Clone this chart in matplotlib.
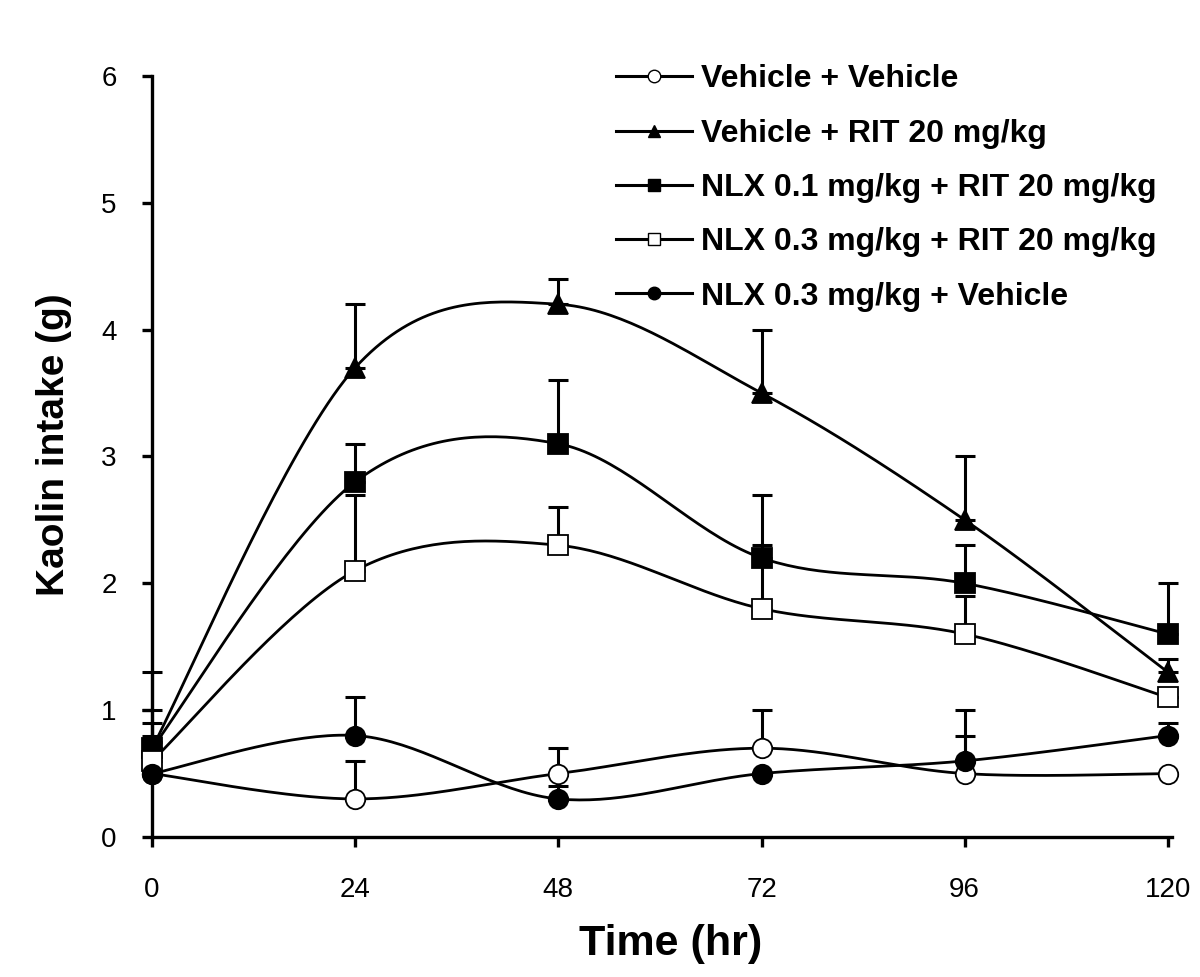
import numpy as np
import matplotlib
matplotlib.use('Agg')
import matplotlib.pyplot as plt
from matplotlib.lines import Line2D

plt.rcParams['font.family'] = ['Liberation Sans', 'DejaVu Sans']

TIME = [0, 24, 48, 72, 96, 120]
LABELS = ['Vehicle + Vehicle',
          'Vehicle + RIT 20 mg/kg',
          'NLX 0.1 mg/kg + RIT 20 mg/kg',
          'NLX 0.3 mg/kg + RIT 20 mg/kg',
          'NLX 0.3 mg/kg + Vehicle']

veh_veh = [0.5, 0.3, 0.5, 0.7, 0.5, 0.5]
veh_veh_err = [0.25, 0.3, 0.2, 0.3, 0.3, 0.0]
veh_rit = [0.7, 3.7, 4.2, 3.5, 2.5, 1.3]
veh_rit_err = [0.6, 0.5, 0.2, 0.5, 0.5, 0.1]
nlx01_rit = [0.7, 2.8, 3.1, 2.2, 2.0, 1.6]
nlx01_rit_err = [0.3, 0.3, 0.5, 0.5, 0.3, 0.4]
nlx03_rit = [0.6, 2.1, 2.3, 1.8, 1.6, 1.1]
nlx03_rit_err = [0.3, 0.6, 0.3, 0.5, 0.3, 0.0]
nlx03_veh = [0.5, 0.8, 0.3, 0.5, 0.6, 0.8]
nlx03_veh_err = [0.3, 0.3, 0.1, 0.0, 0.4, 0.1]

SERIES = [
    (veh_veh, veh_veh_err, 'o', 'white'),
    (veh_rit, veh_rit_err, '^', 'black'),
    (nlx01_rit, nlx01_rit_err, 's', 'black'),
    (nlx03_rit, nlx03_rit_err, 's', 'white'),
    (nlx03_veh, nlx03_veh_err, 'o', 'black'),
]


def smooth(xs, ys, n=40):
    # excel-like smoothed line (catmull-rom bezier)
    xs = np.asarray(xs, float)
    ys = np.asarray(ys, float)
    px = np.concatenate([[xs[0]], xs, [xs[-1]]])
    py = np.concatenate([[ys[0]], ys, [ys[-1]]])
    out_x, out_y = [], []
    t = np.linspace(0, 1, n)
    for i in range(1, len(px) - 2):
        p0 = np.array([px[i], py[i]])
        p3 = np.array([px[i + 1], py[i + 1]])
        c1 = p0 + (np.array([px[i + 1], py[i + 1]]) - np.array([px[i - 1], py[i - 1]])) / 6
        c2 = p3 - (np.array([px[i + 2], py[i + 2]]) - np.array([px[i], py[i]])) / 6
        b = ((1 - t) ** 3)[:, None] * p0 + (3 * (1 - t) ** 2 * t)[:, None] * c1 \
            + (3 * (1 - t) * t ** 2)[:, None] * c2 + (t ** 3)[:, None] * p3
        out_x.extend(b[:, 0])
        out_y.extend(b[:, 1])
    return out_x, out_y


fig = plt.figure(figsize=(12, 9.77), dpi=100)
ax = fig.add_axes([0.1267, 0.1433, 0.85, 0.779])

handles = []
for (vals, errs, mk, fc), lab in zip(SERIES, LABELS):
    sx, sy = smooth(TIME, vals)
    ax.plot(sx, sy, color='black', lw=2.0, zorder=2, clip_on=False)
    ax.errorbar(TIME, vals, yerr=[np.zeros(len(errs)), errs], fmt='none',
                ecolor='black', elinewidth=2.2, capsize=7, capthick=2.2,
                zorder=3, clip_on=False)
    ax.plot(TIME, vals, linestyle='none', marker=mk, markersize=14,
            markerfacecolor=fc, markeredgecolor='black', markeredgewidth=1.3,
            zorder=4, clip_on=False)
    handles.append(Line2D([], [], color='black', lw=2.2, marker=mk, markersize=9,
                          markerfacecolor=fc, markeredgecolor='black',
                          markeredgewidth=1.0, label=lab))

ax.set_xlim(0, 120.5)
ax.set_ylim(0, 6)
ax.set_xticks(TIME)
ax.set_yticks(range(7))
for s in ['top', 'right']:
    ax.spines[s].set_visible(False)
for s in ['left', 'bottom']:
    ax.spines[s].set_linewidth(2.4)
ax.tick_params(axis='both', direction='out', length=7.5, width=2.4, labelsize=20)
ax.tick_params(axis='x', pad=21)
ax.tick_params(axis='y', pad=18)

ax.set_xlabel('Time (hr)', fontsize=31, fontweight='bold')
ax.set_ylabel('Kaolin intake (g)', fontsize=28, fontweight='bold')
ax.xaxis.set_label_coords(0.508, -0.114)
ax.yaxis.set_label_coords(-0.078, 0.516)

leg = ax.legend(handles=handles, loc='upper left', bbox_to_anchor=(0.439, 1.036),
                frameon=False, handlelength=2.4, labelspacing=0.76, borderpad=0,
                handletextpad=0.28, prop={'size': 23, 'weight': 'bold'})

fig.savefig('out.png', dpi=100)
